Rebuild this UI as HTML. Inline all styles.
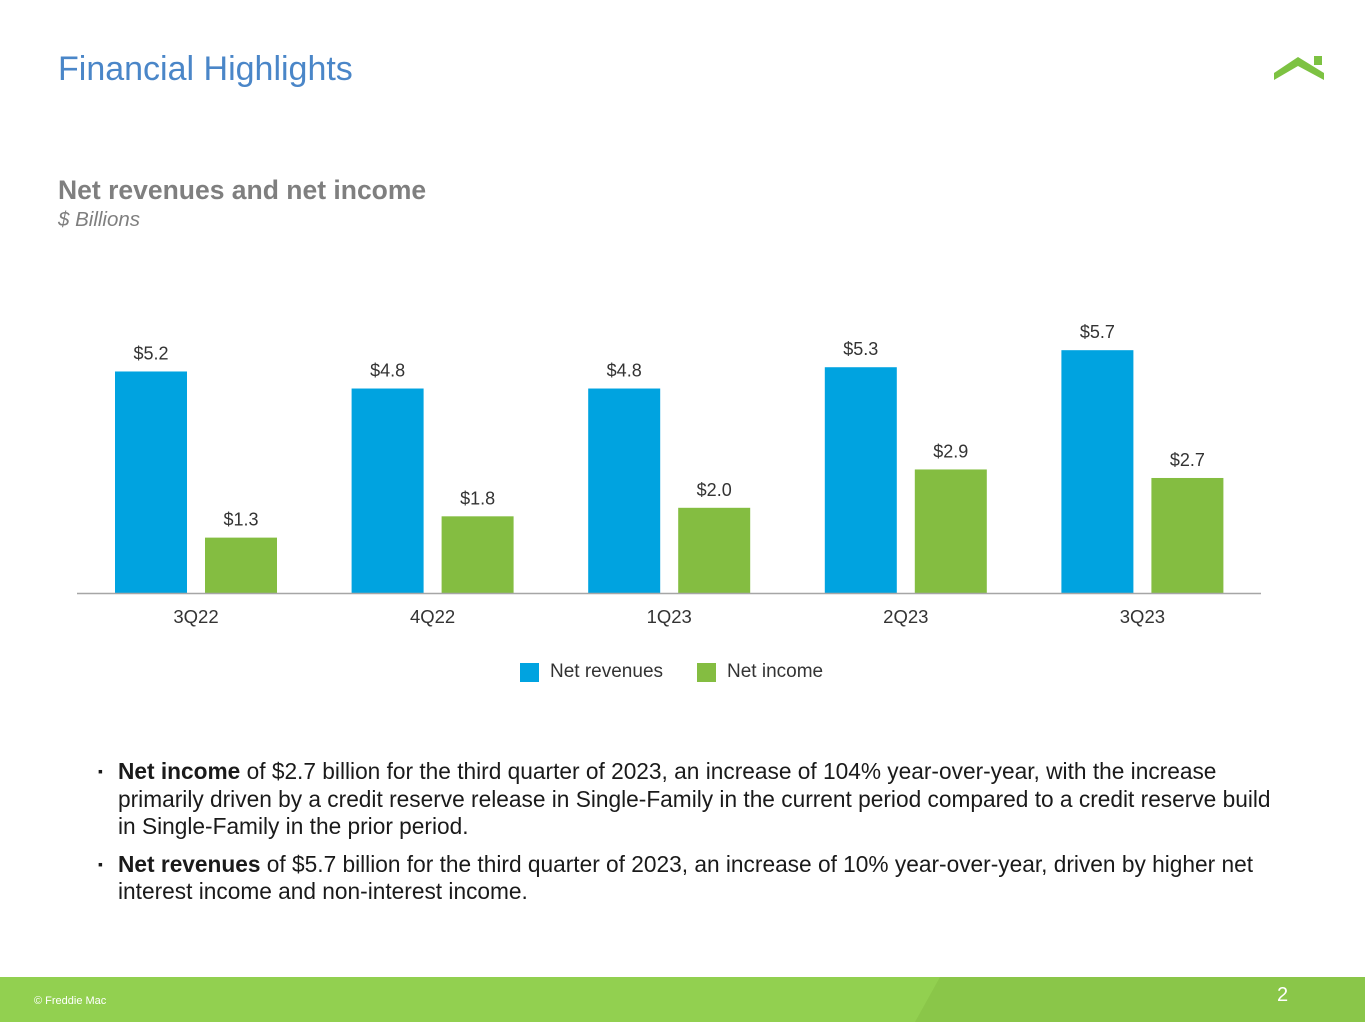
<!DOCTYPE html>
<html><head><meta charset="utf-8"><style>
body{margin:0;width:1365px;height:1024px;position:relative;background:#fff;font-family:"Liberation Sans",Arial,sans-serif;overflow:hidden}
.abs{position:absolute}
</style></head><body>
<div class="abs" style="left:58px;top:50px;font-size:34px;color:#4a86c8">Financial Highlights</div>
<svg class="abs" style="left:1272px;top:54px" width="54" height="28"><polygon points="2,19 26,3 52,19 52,26 26,12 2,26" fill="#7dc242"/><rect x="42" y="2" width="8" height="9" fill="#7dc242"/></svg>
<div class="abs" style="left:58px;top:175px;font-size:26.5px;font-weight:bold;color:#7f7f7f">Net revenues and net income</div>
<div class="abs" style="left:58px;top:208px;font-size:20.5px;font-style:italic;color:#7f7f7f">$ Billions</div>
<svg class="abs" id="chart" style="left:0;top:0" width="1365" height="700"></svg>
<div class="abs" style="left:520px;top:661px;font-size:19px;color:#333;display:flex;align-items:center">
<span style="width:19px;height:19px;background:#00a3e0;display:inline-block;margin-right:11px"></span><span style="margin-right:34px">Net revenues</span>
<span style="width:19px;height:19px;background:#84bd41;display:inline-block;margin-right:11px"></span><span>Net income</span></div>
<div class="abs" style="left:98px;top:758px;width:1250px;font-size:22.7px;line-height:27.5px;color:#1a1a1a;white-space:nowrap">
<div style="position:relative;padding-left:20px;margin-bottom:10px"><span style="position:absolute;left:0;font-size:14px">▪</span><b>Net income</b> of $2.7 billion for the third quarter of 2023, an increase of 104% year-over-year, with the increase<br>primarily driven by a credit reserve release in Single-Family in the current period compared to a credit reserve build<br>in Single-Family in the prior period.</div>
<div style="position:relative;padding-left:20px"><span style="position:absolute;left:0;font-size:14px">▪</span><b>Net revenues</b> of $5.7 billion for the third quarter of 2023, an increase of 10% year-over-year, driven by higher net<br>interest income and non-interest income.</div>
</div>
<svg class="abs" style="left:0;top:977px" width="1365" height="47"><rect width="1365" height="45" fill="#92d050"/><polygon points="940,0 1365,0 1365,45 915,45" fill="#8ac649"/></svg>
<div class="abs" style="left:34px;top:995px;font-size:11px;color:#fff">© Freddie Mac</div>
<div class="abs" style="left:1277px;top:984px;font-size:20px;color:#fff">2</div>
<script>
const categories=["3Q22","4Q22","1Q23","2Q23","3Q23"];
const netRevenues=[5.2,4.8,4.8,5.3,5.7];
const netIncome=[1.3,1.8,2.0,2.9,2.7];
const labelsRev=["$5.2","$4.8","$4.8","$5.3","$5.7"];
const labelsInc=["$1.3","$1.8","$2.0","$2.9","$2.7"];
const svg=document.getElementById('chart');const NS="http://www.w3.org/2000/svg";
const base=593,scale=42.6;
const y=v=>base-v*scale;const cx=i=>196+i*236.6;
function mk(t,a){const e=document.createElementNS(NS,t);for(const k in a)e.setAttribute(k,a[k]);svg.appendChild(e);return e;}
categories.forEach((c,i)=>{
 [[netRevenues,labelsRev,-81,"#00a3e0","net-revenues"],[netIncome,labelsInc,9,"#84bd41","net-income"]].forEach(([d,l,off,col,n])=>{
  const r=mk('rect',{x:cx(i)+off,y:y(d[i]),width:72,height:d[i]*scale,fill:col});
  
  
  const t=mk('text',{x:cx(i)+off+36,y:y(d[i])-12,'text-anchor':'middle','font-size':18,fill:'#333'});t.textContent=l[i];
  
  
 });
 const t=mk('text',{x:cx(i),y:623,'text-anchor':'middle','font-size':18.5,fill:'#333'});t.textContent=c;
 
 
});
const ax=mk('line',{x1:77,x2:1261,y1:base+0.5,y2:base+0.5,stroke:'#a6a6a6','stroke-width':1.5});


</script>
</body></html>
